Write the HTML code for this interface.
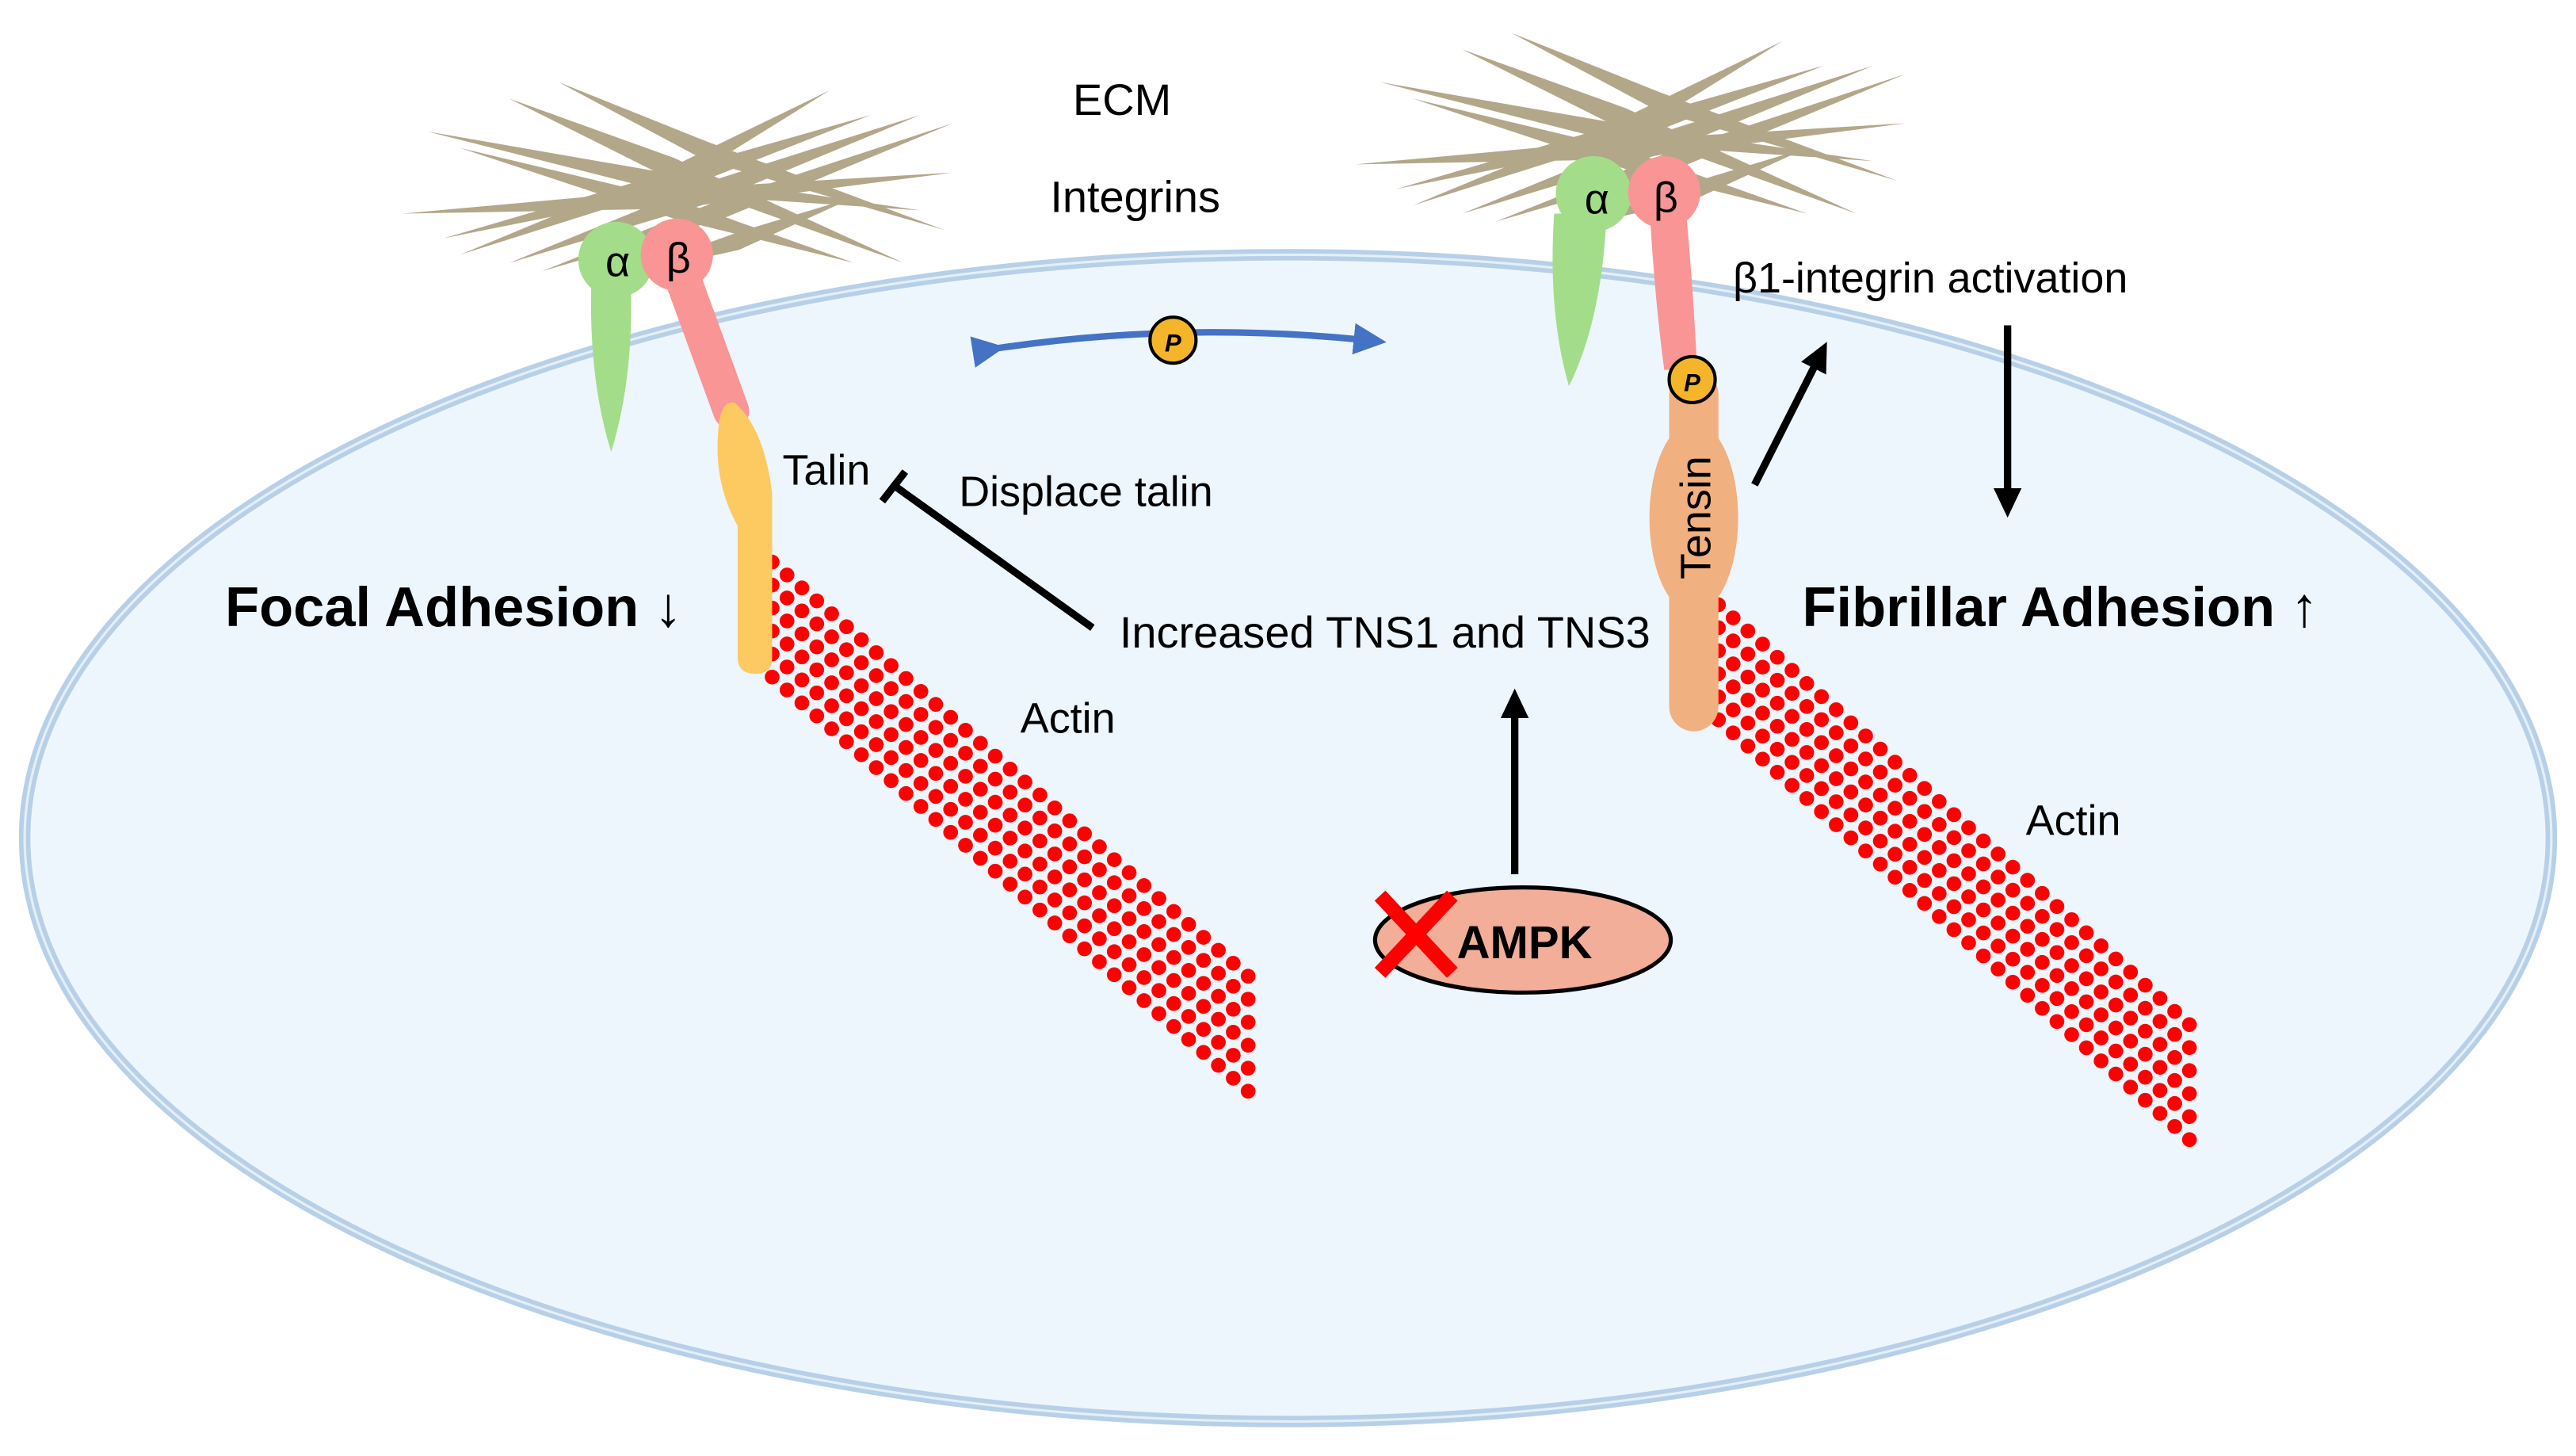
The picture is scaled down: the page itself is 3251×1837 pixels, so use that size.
<!DOCTYPE html>
<html><head><meta charset="utf-8"><style>
html,body{margin:0;padding:0;background:#fff;}
svg{display:block;}
text{font-family:"Liberation Sans",Arial,sans-serif;fill:#000;}
</style></head><body>
<svg width="3251" height="1837" viewBox="0 0 1568 886" xmlns="http://www.w3.org/2000/svg">
<defs>
<marker id="ah" markerWidth="5" markerHeight="5" refX="2" refY="2.5" orient="auto" markerUnits="strokeWidth">
<path d="M0,0.6 L4,2.5 L0,4.4 Z" fill="#000"/></marker>
<marker id="bh" markerWidth="6" markerHeight="6" refX="2" refY="3" orient="auto" markerUnits="strokeWidth">
<path d="M0,0.6 L5,3 L0,5.4 Z" fill="#4472c4"/></marker>
<g id="ecm" fill="#b3a78a">
<path d="M-165,30 L0,15 L170,5 L0,27 Z"/>
<path d="M-100,-40 L0,-4 L140,60 L0,10 Z"/>
<path d="M-70,-50 L20,-14 L165,40 L20,-2 Z"/>
<path d="M-130,-10 L0,21 L110,60 L0,33 Z"/>
<path d="M-150,-20 L0,6 L150,28 L0,18 Z"/>
<path d="M-130,55 L0,1 L95,-45 L0,14 Z"/>
<path d="M-100,60 L20,11 L150,-30 L20,24 Z"/>
<path d="M-80,65 L30,21 L170,-25 L30,33 Z"/>
<path d="M-140,45 L0,4 L120,-30 L0,17 Z"/>
<path d="M-40,70 L40,41 L110,20 L40,52 Z"/>
</g>
</defs>
<rect width="1568" height="886" fill="#fff"/>
<ellipse cx="784" cy="510" rx="769" ry="355" fill="#eef6fd" stroke="#b7d0e8" stroke-width="7"/>
<ellipse cx="784" cy="510" rx="769" ry="355" fill="none" stroke="#e4eff9" stroke-width="1.5"/>
<use href="#ecm" x="410" y="100"/>
<use href="#ecm" x="990" y="70"/>
<g stroke="#f00" stroke-width="9" stroke-linecap="round" stroke-dasharray="0 12" fill="none">
<line x1="470" y1="342" x2="762" y2="596"/>
<line x1="470" y1="356" x2="762" y2="610"/>
<line x1="470" y1="370" x2="762" y2="624"/>
<line x1="470" y1="384" x2="762" y2="638"/>
<line x1="470" y1="398" x2="762" y2="652"/>
<line x1="470" y1="412" x2="762" y2="666"/>
</g>
<g stroke="#f00" stroke-width="9" stroke-linecap="round" stroke-dasharray="0 12" fill="none">
<line x1="1046" y1="368" x2="1340" y2="630"/>
<line x1="1046" y1="382" x2="1340" y2="644"/>
<line x1="1046" y1="396" x2="1340" y2="658"/>
<line x1="1046" y1="410" x2="1340" y2="672"/>
<line x1="1046" y1="424" x2="1340" y2="686"/>
<line x1="1046" y1="438" x2="1340" y2="700"/>
</g>
<path d="M360,170 L384,170 Q386,230 372,275 Q358,230 360,170 Z" fill="#a3dd8a"/>
<circle cx="375" cy="158" r="23" fill="#a3dd8a"/>
<line x1="414" y1="165" x2="445" y2="250" stroke="#f99595" stroke-width="22" stroke-linecap="round"/>
<circle cx="412" cy="155" r="22" fill="#f99595"/>
<path d="M447,245 Q465,260 470,300 L470,400 Q470,410 460,410 Q449,410 449,400 L449,320 Q435,295 437,265 Q438,243 447,245 Z" fill="#fdc961"/>
<text x="376" y="168" font-size="26" text-anchor="middle">α</text>
<text x="413" y="166" font-size="26" text-anchor="middle">β</text>
<path d="M946,130 L978,130 Q975,195 955,235 Q942,190 946,130 Z" fill="#a3dd8a"/>
<circle cx="970" cy="118" r="23" fill="#a3dd8a"/>
<path d="M1004,125 L1026,125 Q1031,180 1033,225 L1013,225 Q1007,180 1004,125 Z" fill="#f99595"/>
<circle cx="1013" cy="117" r="22" fill="#f99595"/>
<text x="972" y="130" font-size="26" text-anchor="middle">α</text>
<text x="1014" y="129" font-size="26" text-anchor="middle">β</text>
<line x1="1031" y1="240" x2="1031" y2="430" stroke="#f1b080" stroke-width="30" stroke-linecap="round"/>
<ellipse cx="1031" cy="315" rx="27" ry="58" fill="#f1b080"/>
<text transform="translate(1041,315) rotate(-90)" font-size="26" text-anchor="middle">Tensin</text>
<circle cx="1030" cy="231" r="14" fill="#f5b52a" stroke="#000" stroke-width="2"/>
<text x="1030" y="238" font-size="15" font-weight="bold" font-style="italic" text-anchor="middle">P</text>
<path d="M600,213 Q715,195 832,207" fill="none" stroke="#4472c4" stroke-width="4" marker-start="url(#bh)" marker-end="url(#bh)"/>
<circle cx="714" cy="207" r="14" fill="#f5b52a" stroke="#000" stroke-width="2"/>
<text x="714" y="214" font-size="15" font-weight="bold" font-style="italic" text-anchor="middle">P</text>
<line x1="665" y1="382" x2="545" y2="296" stroke="#000" stroke-width="4.5"/>
<line x1="537" y1="305" x2="551" y2="287" stroke="#000" stroke-width="4.5"/>
<line x1="1068" y1="295" x2="1108" y2="216" stroke="#000" stroke-width="4.5" marker-end="url(#ah)"/>
<line x1="1222" y1="198" x2="1222" y2="306" stroke="#000" stroke-width="4.5" marker-end="url(#ah)"/>
<line x1="922" y1="532" x2="922" y2="428" stroke="#000" stroke-width="4.5" marker-end="url(#ah)"/>
<ellipse cx="927" cy="572" rx="90" ry="32" fill="#f2ae98" stroke="#000" stroke-width="2.5"/>
<text x="928" y="583" font-size="28" font-weight="bold" text-anchor="middle">AMPK</text>
<g stroke="#f00" stroke-width="9">
<line x1="840" y1="545" x2="884" y2="592"/>
<line x1="884" y1="545" x2="840" y2="592"/>
</g>
<text x="683" y="70" font-size="27" text-anchor="middle">ECM</text>
<text x="691" y="129" font-size="27" text-anchor="middle">Integrins</text>
<text x="503" y="295" font-size="26" text-anchor="middle">Talin</text>
<text x="661" y="308" font-size="26" text-anchor="middle">Displace talin</text>
<text x="137" y="381" font-size="34" font-weight="bold">Focal Adhesion <tspan font-weight="normal">↓</tspan></text>
<text x="843" y="394" font-size="27" text-anchor="middle">Increased TNS1 and TNS3</text>
<text x="650" y="446" font-size="26" text-anchor="middle">Actin</text>
<text x="1262" y="508" font-size="26" text-anchor="middle">Actin</text>
<text x="1175" y="178" font-size="26" text-anchor="middle">β1-integrin activation</text>
<text x="1097" y="381" font-size="34" font-weight="bold">Fibrillar Adhesion <tspan font-weight="normal">↑</tspan></text>
</svg>
</body></html>
